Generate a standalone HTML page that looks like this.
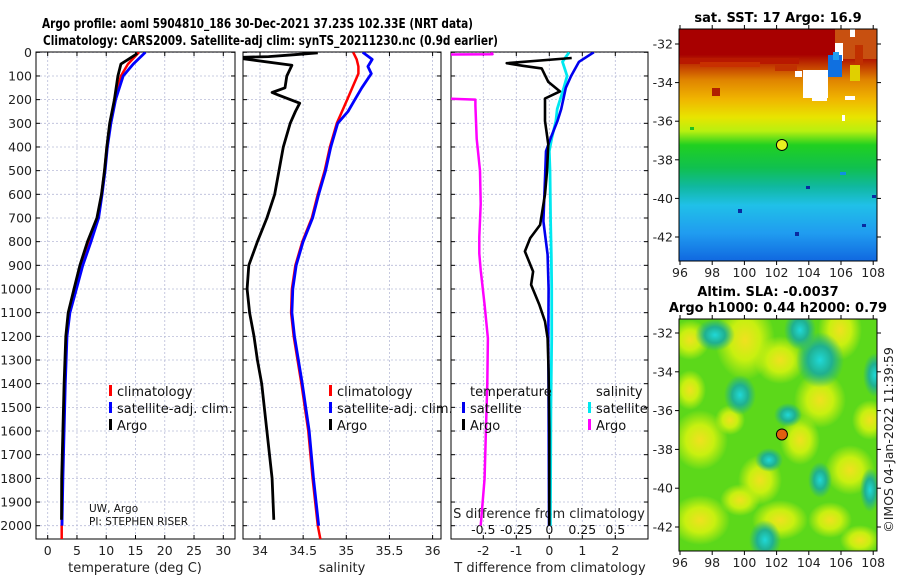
<!DOCTYPE html>
<html><head><meta charset="utf-8">
<style>
html,body{margin:0;padding:0;background:#fff;}
svg{display:block;font-family:"DejaVu Sans","Liberation Sans",sans-serif;}
</style></head>
<body>
<svg id="chart" width="900" height="580" viewBox="0 0 900 580" xmlns="http://www.w3.org/2000/svg">
<defs>
<clipPath id="c1"><rect x="36" y="52" width="199" height="487"/></clipPath>
<clipPath id="c2"><rect x="243" y="52" width="198" height="487"/></clipPath>
<clipPath id="c3"><rect x="451" y="52" width="197" height="487"/></clipPath>
<clipPath id="cm1"><rect x="679" y="29" width="198" height="232"/></clipPath>
<clipPath id="cm2"><rect x="679" y="319" width="198" height="232"/></clipPath>
<linearGradient id="sstg" x1="0" y1="0" x2="0" y2="1">
<stop offset="0" stop-color="#a80000"/><stop offset="0.11" stop-color="#a80000"/>
<stop offset="0.17" stop-color="#c84800"/><stop offset="0.22" stop-color="#e08400"/>
<stop offset="0.3" stop-color="#f0b400"/><stop offset="0.38" stop-color="#e8e400"/>
<stop offset="0.44" stop-color="#b8f010"/><stop offset="0.5" stop-color="#20d020"/>
<stop offset="0.6" stop-color="#10c050"/><stop offset="0.68" stop-color="#10b8a0"/>
<stop offset="0.76" stop-color="#20c0e8"/><stop offset="0.88" stop-color="#209cf0"/>
<stop offset="1" stop-color="#1068e0"/></linearGradient>
<radialGradient id="yb"><stop offset="0" stop-color="#f0e020"/><stop offset="0.5" stop-color="#c8f010"/><stop offset="1" stop-color="#c8f010" stop-opacity="0"/></radialGradient>
<radialGradient id="tb"><stop offset="0" stop-color="#20d8d8"/><stop offset="0.5" stop-color="#20b090"/><stop offset="1" stop-color="#20b090" stop-opacity="0"/></radialGradient>
</defs>
<g id="titles">
<text x="42" y="28" font-size="13.5" font-weight="bold" textLength="431" lengthAdjust="spacingAndGlyphs">Argo profile: aoml 5904810_186 30-Dec-2021 37.23S 102.33E (NRT data)</text>
<text x="43" y="45" font-size="13.5" font-weight="bold" textLength="455" lengthAdjust="spacingAndGlyphs">Climatology: CARS2009. Satellite-adj clim: synTS_20211230.nc (0.9d earlier)</text>
</g>
<g id="panels"></g>
<g id="maps"></g>
</svg>
<script>
// ---- data ----
const depthTArgo=[5,50,100,200,300,400,500,600,700,800,900,1000,1100,1200,1400,1600,1800,1975];
const tempArgo=[15.3,12.5,12.0,11.4,10.6,10.1,9.7,9.2,8.4,6.8,5.5,4.5,3.5,3.1,2.8,2.6,2.4,2.35];
const depthClim=[0,50,100,200,300,400,500,600,700,800,900,1000,1100,1200,1400,1600,1800,2000,2057];
const tempClim=[15.6,13.7,12.5,11.5,10.7,10.1,9.7,9.2,8.6,7.2,5.8,4.7,3.7,3.2,2.9,2.7,2.5,2.4,2.4];
const tempSat=[16.7,14.6,12.9,11.6,10.8,10.2,9.8,9.3,8.7,7.4,6.0,4.9,3.8,3.3,3.0,2.8,2.6,2.45,null];
const depthSArgo=[2,10,18,22,55,100,150,170,180,215,250,300,400,500,600,700,800,900,1000,1100,1200,1300,1400,1600,1800,1975];
const salArgo=[34.67,34.4,34.1,33.7,34.37,34.31,34.29,34.14,34.21,34.46,34.41,34.35,34.27,34.22,34.17,34.08,33.97,33.87,33.85,33.88,33.93,33.97,34.02,34.08,34.14,34.16];
const depthS=[0,30,60,90,150,200,250,300,400,500,600,700,800,900,1000,1100,1200,1400,1600,1800,2000,2057];
const salClim=[35.08,35.12,35.14,35.14,35.07,35.01,34.95,34.89,34.81,34.75,34.67,34.60,34.49,34.41,34.37,34.36,34.39,34.48,34.56,34.61,34.67,34.70];
const salSat=[35.19,35.30,35.25,35.29,35.18,35.10,35.02,34.90,34.82,34.76,34.68,34.61,34.50,34.42,34.38,34.37,34.40,34.49,34.57,34.62,34.68,null];
const depthDT=[24,46,57,68,125,165,195,290,390,503,600,729,785,841,926,982,1067,1137,1208,1350,1600,1800,2000];
const dTArgo=[0.68,-1.29,-0.8,-0.23,-0.03,0.32,-0.13,-0.13,-0.03,-0.07,-0.13,-0.28,-0.58,-0.74,-0.49,-0.55,-0.3,-0.13,-0.05,-0.02,0,0,0];
const depthDS=[0,40,100,150,240,290,360,418,500,714,855,1000,1208,1500,2000];
const dTSat=[1.35,0.9,0.66,0.5,0.36,0.25,0.05,-0.1,-0.12,-0.18,-0.05,-0.02,-0.03,-0.02,-0.01];
const dSSat=[0.15,0.1,0.135,0.11,0.06,0.05,0.02,0,0.005,0.01,0.015,0.018,0.018,0.012,0.008];
const depthDSA=[0,8,11,192,196,200,225,366,500,640,780,850,920,1067,1208,1400,1600,1800,2000];
const dSArgo=[-0.44,-0.43,-1.2,-1.2,-0.76,-0.56,-0.56,-0.55,-0.525,-0.52,-0.53,-0.53,-0.52,-0.49,-0.465,-0.47,-0.48,-0.49,-0.52];
const depthTicks=[0,100,200,300,400,500,600,700,800,900,1000,1100,1200,1300,1400,1500,1600,1700,1800,1900,2000];
const tTicks=[0,5,10,15,20,25,30];
const sTicks=[34,34.5,35,35.5,36];
const dtTicks=[-2,-1,0,1,2];
const dsTicks=[-0.5,-0.25,0,0.25,0.5];
const latTicks=[-32,-34,-36,-38,-40,-42];
const lonTicks=[96,98,100,102,104,106,108];
const argoLon=102.33, argoLat=-37.23;

// ---- scales ----
const Y0=52.3, PXD=0.2367, YB=539;
const yD=d=>Y0+d*PXD;
const xT=t=>47.7+t*5.853;
const xS=s=>260+(s-34)*86.3;
const xDT=t=>549.3+t*33;
const xDS=s=>549.3+s*132;
const NS='http://www.w3.org/2000/svg';
const panels=document.getElementById('panels');
function mk(tag,attrs,parent,txt){const e=document.createElementNS(NS,tag);for(const k in attrs)e.setAttribute(k,attrs[k]);if(txt!==undefined)e.textContent=txt;(parent||panels).appendChild(e);return e;}
function line(xs,ds,xf,color,w,clip,name,dash){
  let p='';let started=false;
  for(let i=0;i<xs.length;i++){if(xs[i]===null||xs[i]===undefined){continue;}p+=(started?'L':'M')+xf(xs[i]).toFixed(1)+','+yD(ds[i]).toFixed(1);started=true;}
  const e=mk('path',{d:p,fill:'none',stroke:color,'stroke-width':w,'stroke-linejoin':'round','clip-path':'url(#'+clip+')'});
  
  
  if(dash)e.setAttribute('stroke-dasharray',dash);
  return e;
}
function frame(x0,x1,ticks,xf,name){
  const g=mk('g',{});
  
  
  depthTicks.forEach(d=>{mk('line',{x1:x0,x2:x1,y1:yD(d),y2:yD(d),stroke:'#b8bcd8','stroke-width':0.8,'stroke-dasharray':'2,2'},g);
    mk('line',{x1:x0,x2:x0+4,y1:yD(d),y2:yD(d),stroke:'#000'},g);mk('line',{x1:x1-4,x2:x1,y1:yD(d),y2:yD(d),stroke:'#000'},g);});
  ticks.forEach(t=>{const x=xf(t);mk('line',{x1:x,x2:x,y1:52,y2:YB,stroke:'#b8bcd8','stroke-width':0.8,'stroke-dasharray':'2,2'},g);
    mk('line',{x1:x,x2:x,y1:YB-4,y2:YB,stroke:'#000'},g);mk('line',{x1:x,x2:x,y1:52,y2:56,stroke:'#000'},g);});
  mk('rect',{x:x0,y:52,width:x1-x0,height:YB-52,fill:'none',stroke:'#000','stroke-width':1},g);
  return g;
}
frame(36,235,tTicks,xT,'temperature-panel-frame');
frame(243,441,sTicks,xS,'salinity-panel-frame');
frame(451,648,dtTicks,xDT,'difference-panel-frame');
depthTicks.forEach(d=>{const t=mk('text',{x:32,y:yD(d)+4.5,'font-size':12.5,'text-anchor':'end',fill:'#222'},panels,String(d));
  
  });
tTicks.forEach(v=>{const t=mk('text',{x:xT(v),y:555,'font-size':12.5,'text-anchor':'middle',fill:'#222'},panels,String(v));
  
  });
sTicks.forEach(v=>{const t=mk('text',{x:xS(v),y:555,'font-size':12.5,'text-anchor':'middle',fill:'#222'},panels,String(v));
  
  });
dtTicks.forEach(v=>{const t=mk('text',{x:xDT(v),y:555,'font-size':12.5,'text-anchor':'middle',fill:'#222'},panels,String(v));
  
  });
dsTicks.forEach(v=>{const t=mk('text',{x:xDS(v),y:534,'font-size':12.5,'text-anchor':'middle',fill:'#111'},panels,String(v));
  
  });
[['temperature (deg C)',135,'temperature-axis-title',572],['salinity',342,'salinity-axis-title',572],['T difference from climatology',550,'t-diff-axis-title',572],['S difference from climatology',549,'s-diff-axis-title',518]].forEach(a=>{
  const t=mk('text',{x:a[1],y:a[3],'font-size':13,'text-anchor':'middle',fill:'#222'},panels,a[0]);
  
  });

line(tempClim,depthClim,xT,'#ff0000',2.5,'c1','temperature-climatology-line');
line(tempSat,depthClim,xT,'#0000ff',2.8,'c1','temperature-satellite-line');
line(tempArgo,depthTArgo,xT,'#000',2.8,'c1','temperature-argo-line');
line(salClim,depthS,xS,'#ff0000',2.5,'c2','salinity-climatology-line');
line(salSat,depthS,xS,'#0000ff',2.8,'c2','salinity-satellite-line');
line(salArgo,depthSArgo,xS,'#000',2.8,'c2','salinity-argo-line');
line(dSArgo,depthDSA,xDS,'#ff00ff',2.5,'c3','s-diff-argo-line');
line(dSSat,depthDS,xDS,'#00e8f0',2.8,'c3','s-diff-satellite-line');
line(dTSat,depthDS,xDT,'#0000ee',2.6,'c3','t-diff-satellite-line');
line(dTArgo,depthDT,xDT,'#000',2.6,'c3','t-diff-argo-line');

function leg(x,y,color,label,name){
  const g=mk('g',{});
  
  
  mk('rect',{x:x,y:y-11,width:3,height:11,fill:color},g);
  mk('text',{x:x+8,y:y,'font-size':13,fill:'#111'},g,label);
}
leg(109,396,'#ff0000','climatology','legend-climatology');
leg(109,413,'#0000ff','satellite-adj. clim.','legend-satellite-adj');
leg(109,430,'#000','Argo','legend-argo');
leg(329,396,'#ff0000','climatology','legend-salinity-climatology');
leg(329,413,'#0000ff','satellite-adj. clim.','legend-salinity-satellite');
leg(329,430,'#000','Argo','legend-salinity-argo');
let tl=mk('text',{x:470,y:396,'font-size':13,fill:'#111'},panels,'temperature');


let sl=mk('text',{x:596,y:396,'font-size':13,fill:'#111'},panels,'salinity');


leg(462,413,'#0000ee','satellite','legend-t-satellite');
leg(462,430,'#000','Argo','legend-t-argo');
leg(588,413,'#00e8f0','satellite','legend-s-satellite');
leg(588,430,'#ff00ff','Argo','legend-s-argo');
let c1=mk('text',{x:89,y:512,'font-size':10.5,fill:'#111'},panels,'UW, Argo');


let c2=mk('text',{x:89,y:525,'font-size':10.5,fill:'#111'},panels,'PI: STEPHEN RISER');



// ---- maps ----
const maps=document.getElementById('maps');
const mx=lon=>680+(lon-96)*16.1;
function mapAxes(top,bottom,latY,name){
  const g=mk('g',{},maps);
  
  
  mk('rect',{x:679,y:top,width:198,height:bottom-top,fill:'none',stroke:'#000'},g);
  latTicks.forEach(l=>{const y=latY(l);mk('line',{x1:675,x2:679,y1:y,y2:y,stroke:'#000'},g);mk('line',{x1:877,x2:881,y1:y,y2:y,stroke:'#000'},g);
    mk('text',{x:673,y:y+4.5,'font-size':12.5,'text-anchor':'end',fill:'#222'},g,String(l));});
  lonTicks.forEach(l=>{const x=mx(l);mk('line',{x1:x,x2:x,y1:top-4,y2:top,stroke:'#000'},g);mk('line',{x1:x,x2:x,y1:bottom,y2:bottom+4,stroke:'#000'},g);
    mk('text',{x:x,y:bottom+16,'font-size':12.5,'text-anchor':'middle',fill:'#222'},g,String(l));});
}
const ly1=l=>44+(-32-l)*19.3;
const ly2=l=>333+(-32-l)*19.4;
const m1=mk('g',{'clip-path':'url(#cm1)'},maps);


mk('rect',{x:679,y:29,width:198,height:232,fill:'url(#sstg)'},m1);
[[679,58,120,6,'#b81800'],[700,62,60,5,'#c83000'],[712,88,8,8,'#b02000'],[775,65,22,6,'#c03000'],[835,29,42,30,'#c85010'],[850,29,5,8,'#fff'],[855,45,8,20,'#c03000'],
 [803,70,25,28,'#fff'],[812,96,15,5,'#fff'],[835,43,8,18,'#fff'],[828,55,14,22,'#1070e0'],[833,52,6,8,'#20a0f0'],[850,65,10,16,'#e0d000'],[795,71,7,6,'#fff'],[845,96,10,4,'#fff'],[842,115,3,6,'#fff'],
 [806,186,4,3,'#0a2aa0'],[862,224,4,3,'#0a2aa0'],[795,232,4,4,'#0a2aa0'],[872,195,4,3,'#0a2aa0'],[738,209,4,4,'#0a2aa0'],[690,127,4,3,'#20c020'],[840,172,6,3,'#1090e0']].forEach(r=>{
  mk('rect',{x:r[0],y:r[1],width:r[2],height:r[3],fill:r[4]},m1);});
mapAxes(29,261,ly1,'sst-map-axes');
const d1=mk('circle',{cx:mx(argoLon),cy:ly1(argoLat),r:5.5,fill:'#e8f020',stroke:'#000','stroke-width':1},maps);


let mt=mk('text',{x:778,y:22,'font-size':13,'font-weight':'bold','text-anchor':'middle'},maps,'sat. SST: 17 Argo: 16.9');


const m2=mk('g',{'clip-path':'url(#cm2)'},maps);


mk('rect',{x:679,y:319,width:198,height:232,fill:'#5cd81a'},m2);
[[745,340,30,40],[700,440,28,30],[760,480,22,25],[840,330,22,30],[820,400,26,28],[780,360,26,24],[700,520,30,25],[850,470,25,25],[780,520,28,20],[690,340,20,20],[860,540,20,15],[730,420,15,15],[800,440,20,25],[870,420,18,20],[740,500,20,16],[690,390,16,20],[830,520,22,18]].forEach(b=>{
  mk('ellipse',{cx:b[0],cy:b[1],rx:b[2],ry:b[3],fill:'url(#yb)'},m2);});
[[715,335,20,16],[740,395,16,20],[820,360,24,28],[875,375,12,22],[769,460,14,12],[765,540,16,20],[788,415,14,12],[870,490,10,22],[820,480,12,18],[800,330,16,20]].forEach(b=>{
  mk('ellipse',{cx:b[0],cy:b[1],rx:b[2],ry:b[3],fill:'url(#tb)'},m2);});
mapAxes(319,551,ly2,'sla-map-axes');
const d2=mk('circle',{cx:mx(argoLon),cy:ly2(argoLat),r:5.5,fill:'#e06010',stroke:'#000','stroke-width':1},maps);


let t2=mk('text',{x:768,y:296,'font-size':13,'font-weight':'bold','text-anchor':'middle'},maps,'Altim. SLA: -0.0037');


let t3=mk('text',{x:778,y:312,'font-size':13,'font-weight':'bold','text-anchor':'middle'},maps,'Argo h1000: 0.44 h2000: 0.79');


let cp=mk('text',{x:0,y:0,'font-size':12.5,'text-anchor':'middle',fill:'#222',transform:'translate(893,440) rotate(-90)'},maps,'©IMOS 04-Jan-2022 11:39:59');


</script>
</body></html>
